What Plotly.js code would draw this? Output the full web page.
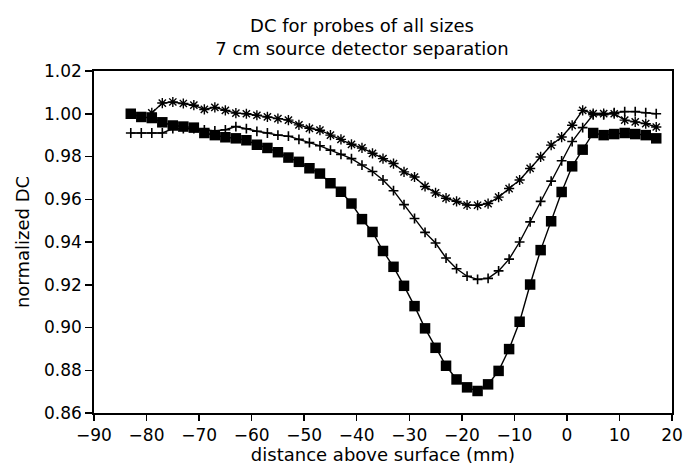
<!DOCTYPE html>
<html>
<head>
<meta charset="utf-8">
<script src="https://cdn.plot.ly/plotly-3.0.1.min.js"></script>
<style>html,body{margin:0;padding:0;background:#fff;}#chart{width:685px;height:465px;}</style>
</head>
<body>
<div id="chart"></div>
<script>
// Large probe (filled squares)
var xSquares = [-83,-81,-79,-77,-75,-73,-71,-69,-67,-65,-63,-61,-59,-57,-55,-53,-51,-49,-47,-45,-43,-41,-39,-37,-35,-33,-31,-29,-27,-25,-23,-21,-19,-17,-15,-13,-11,-9,-7,-5,-3,-1,1,3,5,7,9,11,13,15,17];
var ySquares = [1.000,0.9985,0.998,0.996,0.9945,0.994,0.9935,0.991,0.990,0.989,0.9885,0.9876,0.9855,0.984,0.982,0.9795,0.9775,0.9745,0.972,0.9675,0.9635,0.958,0.9507,0.9447,0.9358,0.9284,0.9195,0.9100,0.8996,0.8905,0.8821,0.8757,0.8720,0.8703,0.8734,0.8797,0.8899,0.9027,0.9201,0.9362,0.9497,0.9634,0.9754,0.9832,0.991,0.990,0.9905,0.991,0.9905,0.990,0.9885];

// Medium probe (plus markers)
var xPlus = [-83,-81,-79,-77,-75,-73,-71,-69,-67,-65,-63,-61,-59,-57,-55,-53,-51,-49,-47,-45,-43,-41,-39,-37,-35,-33,-31,-29,-27,-25,-23,-21,-19,-17,-15,-13,-11,-9,-7,-5,-3,-1,1,3,5,7,9,11,13,15,17];
var yPlus = [0.991,0.991,0.991,0.991,0.993,0.993,0.993,0.9925,0.992,0.9925,0.994,0.993,0.9918,0.991,0.990,0.9895,0.988,0.9865,0.985,0.983,0.981,0.979,0.976,0.973,0.969,0.964,0.9575,0.951,0.9445,0.9395,0.9325,0.9275,0.924,0.9225,0.923,0.9265,0.932,0.940,0.9494,0.959,0.9685,0.978,0.987,0.9935,0.9995,0.9995,1.0005,1.001,1.001,1.0005,1.000];

// Small probe (asterisk markers)
var xStar = [-79,-77,-75,-73,-71,-69,-67,-65,-63,-61,-59,-57,-55,-53,-51,-49,-47,-45,-43,-41,-39,-37,-35,-33,-31,-29,-27,-25,-23,-21,-19,-17,-15,-13,-11,-9,-7,-5,-3,-1,1,3,5,7,9,11,13,15,17];
var yStar = [1.0004,1.005,1.0055,1.0048,1.004,1.002,1.003,1.0016,1.0003,1.000,0.9993,0.9985,0.9977,0.997,0.9948,0.9932,0.9923,0.990,0.988,0.9857,0.984,0.9815,0.979,0.9767,0.9728,0.9704,0.966,0.963,0.9605,0.959,0.9573,0.9572,0.958,0.961,0.965,0.969,0.9744,0.9798,0.9853,0.9891,0.9946,1.0016,1.0001,1.0001,1.000,0.997,0.9962,0.9954,0.9938];

var xTickVals = [-90,-80,-70,-60,-50,-40,-30,-20,-10,0,10,20];
var yTickVals = [0.86,0.88,0.90,0.92,0.94,0.96,0.98,1.00,1.02];

var FONT = 'DejaVu Sans, Liberation Sans, Arial, sans-serif';

var traces = [
  {x: xSquares, y: ySquares, type: 'scatter', mode: 'lines+markers',
   line: {color: '#000', width: 1.4},
   marker: {symbol: 'square', size: 10.5, color: '#000'}},
  {x: xPlus, y: yPlus, type: 'scatter', mode: 'lines+markers',
   line: {color: '#000', width: 1.4},
   marker: {symbol: 'cross-thin-open', size: 7, color: '#000', line: {color: '#000', width: 1.6}}},
  {x: xStar, y: yStar, type: 'scatter', mode: 'lines+markers',
   line: {color: '#000', width: 1.4},
   marker: {symbol: 'asterisk-open', size: 8.5, color: '#000', line: {color: '#000', width: 1.4}}}
];

var layout = {
  width: 685, height: 465,
  margin: {l: 94, r: 13, t: 71, b: 52},
  paper_bgcolor: '#fff', plot_bgcolor: '#fff',
  showlegend: false,
  font: {family: FONT, color: '#000', size: 17},
  title: {text: 'DC for probes of all sizes<br>7 cm source detector separation',
          font: {family: FONT, size: 18, color: '#000'},
          x: 362/685, xref: 'container', xanchor: 'center',
          y: 1 - 32/465, yref: 'container', yanchor: 'top'},
  xaxis: {range: [-90, 20], tickmode: 'array', tickvals: xTickVals,
          ticks: 'outside', ticklen: 6, tickwidth: 1.5, tickcolor: '#000',
          showline: true, linecolor: '#000', linewidth: 1.8, mirror: true,
          showgrid: false, zeroline: false,
          tickfont: {family: FONT, size: 17, color: '#000'},
          title: {text: 'distance above surface (mm)', font: {family: FONT, size: 18, color: '#000'}, standoff: 2}},
  yaxis: {range: [0.86, 1.02], tickmode: 'array', tickvals: yTickVals, tickformat: '.2f',
          ticks: 'outside', ticklen: 7, tickwidth: 1.5, tickcolor: '#000',
          showline: true, linecolor: '#000', linewidth: 1.8, mirror: true,
          showgrid: false, zeroline: false,
          tickfont: {family: FONT, size: 17, color: '#000'},
          title: {text: 'normalized DC', font: {family: FONT, size: 18, color: '#000'}, standoff: 10}}
};

Plotly.newPlot('chart', traces, layout, {displayModeBar: false, staticPlot: true});
</script>
</body>
</html>
